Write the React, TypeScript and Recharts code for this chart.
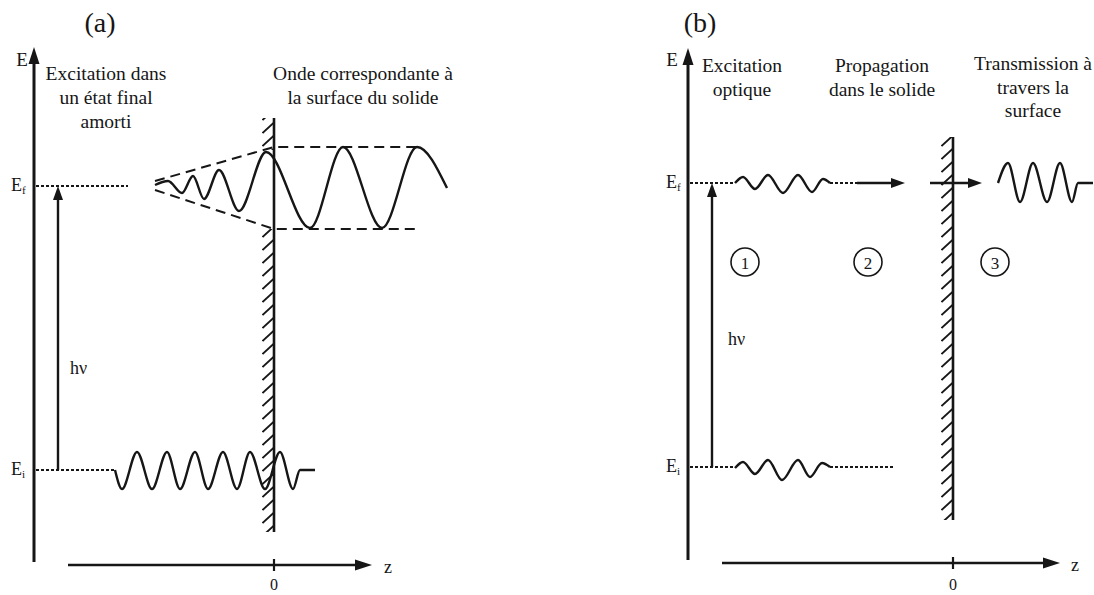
import { ComposedChart, Line, Scatter, XAxis, YAxis, ReferenceArea } from "recharts";

const INK = "#161616";
const SERIF = '"Liberation Serif", "Times New Roman", serif';
const W = 547;
const H = 595;

// z: distance from the surface, e: height above the z axis (both in picture units)
type P = [number, number];
const pts = (a: P[]) => a.map(([z, e]) => ({ z, e }));

// ---------- (a) excitation into a damped final state ----------
const aAxisE: P[] = [[-240, 3], [-240, 504]];
const aAxisZ: P[] = [[-206, 0], [82, 0]];
const aTick0: P[] = [[0, -6], [0, 6]];
const aSurface: P[] = [[0, 33], [0, 447]];
const aEfDots: P[] = [[-238, 379], [-146, 379]];
const aEiDots: P[] = [[-238, 95], [-159, 95]];
const aHv: P[] = [[-216, 95], [-216, 367]];
const aEiWave: P[] = [
  [-159, 95], [-152, 76], [-137, 113], [-122, 76], [-107, 113], [-94, 76],
  [-79, 113], [-66, 76], [-51, 113], [-37, 76], [-24, 113], [-9, 76],
  [6, 113], [19, 76], [26, 95], [41, 95],
];
const aEfWave: P[] = [
  [-119, 380], [-106, 384], [-92, 372], [-81, 389], [-70, 366], [-55, 395],
  [-35, 354], [-8, 413], [36, 337], [69, 418], [108, 337], [143, 418], [173, 377],
];
const aEnvTop: P[] = [[-119, 384], [0, 418], [144, 418]];
const aEnvBottom: P[] = [[-119, 375], [0, 336], [144, 336]];
const aHatchBands: P[] = [[33, 336], [415, 447]];
const aHeadsBig = [{ z: -240, e: 518, dir: "up" }, { z: 98, e: 0, dir: "right" }];
const aHeadsSmall = [{ z: -216, e: 379, dir: "up" }];
const aTitle = [{ z: -174, e: 543, t: "(a)" }];
const aCaptions = [
  { z: -168, e: 492, t: "Excitation dans" },
  { z: -168, e: 468, t: "un état final" },
  { z: -168, e: 444, t: "amorti" },
  { z: 89, e: 492, t: "Onde correspondante à" },
  { z: 89, e: 468, t: "la surface du solide" },
];
const aCentered = [{ z: -252, e: 506, t: "E" }];
const aZero = [{ z: 0, e: -19, t: "0" }];
const aLeftText = [
  { z: -204, e: 197, t: "hν" },
  { z: 110, e: -2, t: "z" },
];
const aLevels = [
  { z: -263, e: 380, t: "E", sub: "f" },
  { z: -263, e: 96, t: "E", sub: "i" },
];

// ---------- (b) three-step model ----------
const bAxisE: P[] = [[-265, 5], [-265, 503]];
const bAxisZ: P[] = [[-231, 2], [91, 2]];
const bTick0: P[] = [[0, -4], [0, 8]];
const bSurface: P[] = [[0, 45], [0, 428]];
const bEfDots: P[] = [[-263, 382], [-218, 382]];
const bEfDots2: P[] = [[-123, 382], [-96, 382]];
const bArrow1: P[] = [[-96, 382], [-60, 382]];
const bArrow2: P[] = [[-23, 382], [17, 382]];
const bEiDots: P[] = [[-263, 98], [-218, 98]];
const bEiDots2: P[] = [[-123, 98], [-60, 98]];
const bHv: P[] = [[-241, 98], [-241, 370]];
const bEfWave: P[] = [
  [-218, 382], [-210, 388], [-198, 376], [-185, 390], [-170, 372],
  [-155, 390], [-141, 373], [-130, 386], [-123, 382],
];
const bEiWave: P[] = [
  [-218, 97], [-210, 103], [-198, 91], [-185, 105], [-171, 85],
  [-155, 105], [-143, 88], [-131, 102], [-123, 98],
];
const bOutWave: P[] = [
  [45, 382], [55, 402], [67, 363], [80, 402], [94, 363],
  [107, 402], [119, 363], [125, 382], [140, 382],
];
const bHatchBands: P[] = [[45, 428]];
const bHeadsBig = [{ z: -265, e: 517, dir: "up" }, { z: 107, e: 2, dir: "right" }];
const bHeadsSmall = [
  { z: -241, e: 382, dir: "up" },
  { z: -48, e: 382, dir: "right" },
  { z: 29, e: 382, dir: "right" },
];
const bTitle = [{ z: -253, e: 543, t: "(b)" }];
const bCaptions = [
  { z: -211, e: 500, t: "Excitation" },
  { z: -211, e: 476, t: "optique" },
  { z: -71, e: 500, t: "Propagation" },
  { z: -71, e: 476, t: "dans le solide" },
  { z: 80, e: 502, t: "Transmission à" },
  { z: 80, e: 478, t: "travers la" },
  { z: 80, e: 455, t: "surface" },
];
const bCentered = [{ z: -281, e: 506, t: "E" }];
const bZero = [{ z: 0, e: -19, t: "0" }];
const bLeftText = [
  { z: -225, e: 226, t: "hν" },
  { z: 118, e: 0, t: "z" },
];
const bLevels = [
  { z: -287, e: 383, t: "E", sub: "f" },
  { z: -287, e: 99, t: "E", sub: "i" },
];
const bSteps = [
  { z: -208, e: 303, t: "1" },
  { z: -85, e: 303, t: "2" },
  { z: 42, e: 303, t: "3" },
];

type Seg = { data: P[]; w: number; dash?: string; curve?: boolean };

const head = (len: number, half: number) => (p: any) => {
  const { cx, cy, payload } = p;
  const d =
    payload.dir === "up"
      ? `${cx},${cy} ${cx - half},${cy + len} ${cx + half},${cy + len}`
      : `${cx},${cy} ${cx - len},${cy - half} ${cx - len},${cy + half}`;
  return <polygon points={d} fill={INK} />;
};

const label = (size: number, anchor: string) => (p: any) => {
  const { cx, cy, payload } = p;
  return (
    <text x={cx} y={cy} fontSize={size} fontFamily={SERIF} fill={INK} textAnchor={anchor} dominantBaseline="central">
      {payload.t}
      {payload.sub ? (
        <tspan fontSize={size * 0.62} dy={5}>
          {payload.sub}
        </tspan>
      ) : null}
    </text>
  );
};

const circled = (p: any) => {
  const { cx, cy, payload } = p;
  return (
    <g>
      <circle cx={cx} cy={cy} r={14} fill="none" stroke={INK} strokeWidth={1.6} />
      <text x={cx} y={cy + 1} fontSize={17} fontFamily={SERIF} fill={INK} textAnchor="middle" dominantBaseline="central">
        {payload.t}
      </text>
    </g>
  );
};

function Panel(props: {
  id: string;
  left: number;
  domain: [number, number];
  segs: Seg[];
  bands: P[];
  bigHeads: any[];
  smallHeads: any[];
  title: any[];
  captions: any[];
  centered: any[];
  zero: any[];
  leftText: any[];
  levels: any[];
  steps?: any[];
}) {
  const { id, left, domain } = props;
  return (
    <div style={{ position: "absolute", left, top: 0 }}>
      <ComposedChart width={W} height={H} margin={{ top: 0, right: 0, bottom: 0, left: 0 }}>
        <defs>
          <pattern id={id} patternUnits="userSpaceOnUse" x={-domain[0] - 12} y={4} width={12} height={13}>
            <line x1={0.5} y1={12} x2={11.5} y2={2} stroke={INK} strokeWidth={1.9} />
          </pattern>
        </defs>
        <XAxis type="number" dataKey="z" domain={domain} allowDataOverflow hide />
        <YAxis type="number" dataKey="e" domain={[-30, 565]} allowDataOverflow hide />
        {props.bands.map(([lo, hi], i) => (
          <ReferenceArea key={"band" + i} x1={-12} x2={0} y1={lo} y2={hi} fill={`url(#${id})`} fillOpacity={1} stroke="none" />
        ))}
        {props.segs.map((s, i) => (
          <Line
            key={"seg" + i}
            data={pts(s.data)}
            dataKey="e"
            type={s.curve ? "monotone" : "linear"}
            stroke={INK}
            strokeWidth={s.w}
            strokeDasharray={s.dash}
            dot={false}
            activeDot={false}
            isAnimationActive={false}
          />
        ))}
        <Scatter data={props.bigHeads} dataKey="e" shape={head(17, 5.5)} isAnimationActive={false} />
        <Scatter data={props.smallHeads} dataKey="e" shape={head(14, 5)} isAnimationActive={false} />
        <Scatter data={props.title} dataKey="e" shape={label(28, "middle")} isAnimationActive={false} />
        <Scatter data={props.captions} dataKey="e" shape={label(19.5, "middle")} isAnimationActive={false} />
        <Scatter data={props.centered} dataKey="e" shape={label(19, "middle")} isAnimationActive={false} />
        <Scatter data={props.zero} dataKey="e" shape={label(16, "middle")} isAnimationActive={false} />
        <Scatter data={props.leftText} dataKey="e" shape={label(18, "start")} isAnimationActive={false} />
        <Scatter data={props.levels} dataKey="e" shape={label(18, "start")} isAnimationActive={false} />
        {props.steps ? <Scatter data={props.steps} dataKey="e" shape={circled} isAnimationActive={false} /> : null}
      </ComposedChart>
    </div>
  );
}

export default function App() {
  const aSegs: Seg[] = [
    { data: aAxisE, w: 3 },
    { data: aAxisZ, w: 2.6 },
    { data: aTick0, w: 2.2 },
    { data: aSurface, w: 2.6 },
    { data: aEfDots, w: 2, dash: "3 2" },
    { data: aEiDots, w: 2, dash: "3 2" },
    { data: aHv, w: 2.4 },
    { data: aEnvTop, w: 2, dash: "10 6" },
    { data: aEnvBottom, w: 2, dash: "10 6" },
    { data: aEiWave, w: 2.4, curve: true },
    { data: aEfWave, w: 2.4, curve: true },
  ];
  const bSegs: Seg[] = [
    { data: bAxisE, w: 3 },
    { data: bAxisZ, w: 2.6 },
    { data: bTick0, w: 2.2 },
    { data: bSurface, w: 2.6 },
    { data: bEfDots, w: 2, dash: "3 2" },
    { data: bEfDots2, w: 2, dash: "3 2" },
    { data: bEiDots, w: 2, dash: "3 2" },
    { data: bEiDots2, w: 2, dash: "3 2" },
    { data: bArrow1, w: 2.6 },
    { data: bArrow2, w: 2.6 },
    { data: bHv, w: 2.4 },
    { data: bEfWave, w: 2.4, curve: true },
    { data: bEiWave, w: 2.4, curve: true },
    { data: bOutWave, w: 2.4, curve: true },
  ];
  return (
    <div style={{ position: "absolute", left: 0, top: 0, width: 1094, height: 595, background: "#fff" }}>
      <Panel
        id="hatchA"
        left={0}
        domain={[-274, 273]}
        segs={aSegs}
        bands={aHatchBands}
        bigHeads={aHeadsBig}
        smallHeads={aHeadsSmall}
        title={aTitle}
        captions={aCaptions}
        centered={aCentered}
        zero={aZero}
        leftText={aLeftText}
        levels={aLevels}
      />
      <Panel
        id="hatchB"
        left={547}
        domain={[-406, 141]}
        segs={bSegs}
        bands={bHatchBands}
        bigHeads={bHeadsBig}
        smallHeads={bHeadsSmall}
        title={bTitle}
        captions={bCaptions}
        centered={bCentered}
        zero={bZero}
        leftText={bLeftText}
        levels={bLevels}
        steps={bSteps}
      />
    </div>
  );
}
